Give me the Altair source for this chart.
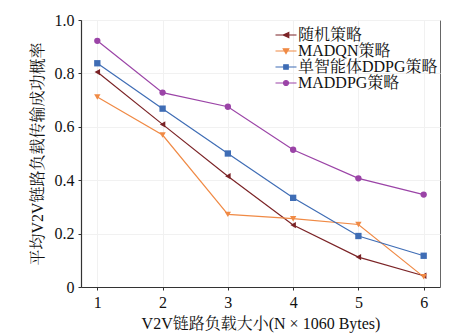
import altair as alt
import pandas as pd

x_vals = [1, 2, 3, 4, 5, 6]
series_names = ["随机策略", "MADQN策略", "单智能体DDPG策略", "MADDPG策略"]
random_vals = [0.805, 0.609, 0.415, 0.232, 0.112, 0.042]
madqn_vals = [0.712, 0.569, 0.272, 0.256, 0.234, 0.038]
ddpg_vals = [0.838, 0.668, 0.500, 0.334, 0.191, 0.117]
maddpg_vals = [0.922, 0.728, 0.675, 0.514, 0.407, 0.346]

colors = ["#7B2326", "#F08A45", "#3F6DB5", "#9B44A7"]
shapes = ["triangle-left", "triangle-down", "square", "circle"]

rows = []
for name, vals in zip(series_names, [random_vals, madqn_vals, ddpg_vals, maddpg_vals]):
    for xv, yv in zip(x_vals, vals):
        rows.append({"x": xv, "y": yv, "series": name})
df = pd.DataFrame(rows)

# legend symbols: line + marker (custom paths)
leg_paths = [
    "M-2.1,0H2.1M0.55,-0.5L-0.55,0L0.55,0.5Z",
    "M-2.1,0H2.1M-0.55,-0.45L0.55,-0.45L0,0.5Z",
    "M-2.1,0H2.1M-0.45,-0.45H0.45V0.45H-0.45Z",
    "M-2.1,0H2.1M-0.5,0A0.5,0.5 0 1,0 0.5,0A0.5,0.5 0 1,0 -0.5,0Z",
]
df_leg = pd.DataFrame({"x": [100] * 4, "y": [0.5] * 4, "series": series_names})

FONT = "Liberation Serif, Noto Serif CJK SC, Noto Sans CJK SC"

xs = alt.Scale(domain=[0.75, 6.25], nice=False, zero=False)
ys = alt.Scale(domain=[0, 1], nice=False)
cs = alt.Scale(domain=series_names, range=colors)

X = alt.X("x:Q", scale=xs,
          axis=alt.Axis(values=x_vals, format="d", title="V2V链路负载大小(N × 1060 Bytes)"))
Y = alt.Y("y:Q", scale=ys,
          axis=alt.Axis(values=[0, 0.2, 0.4, 0.6, 0.8, 1.0],
                        labelExpr="datum.value == 0 ? '0' : format(datum.value, '.1f')",
                        title="平均V2V链路负载传输成功概率"))

lines = alt.Chart(df).mark_line(strokeWidth=1.2).encode(
    x=X, y=Y,
    color=alt.Color("series:N", scale=cs, legend=None),
    detail="series:N",
)
points = alt.Chart(df).mark_point(filled=True, size=40, opacity=1).encode(
    x=X, y=Y,
    color=alt.Color("series:N", scale=cs, legend=None),
    shape=alt.Shape("series:N", scale=alt.Scale(domain=series_names, range=shapes), legend=None),
)

leg = alt.Legend(title=None, orient="none", legendX=189, legendY=7,
                 labelFont=FONT, labelFontSize=16, labelColor="#111",
                 symbolSize=100, symbolStrokeWidth=1.2, labelOffset=4,
                 rowPadding=-1, symbolOffset=8)

legend_layer = alt.Chart(df_leg).mark_point(filled=True, clip=True, opacity=1, strokeWidth=1.2).encode(
    x=X, y=Y,
    fill=alt.Fill("series:N", scale=cs, legend=leg),
    stroke=alt.Stroke("series:N", scale=cs, legend=leg),
    shape=alt.Shape("series:N", scale=alt.Scale(domain=series_names, range=leg_paths), legend=leg),
)

chart = alt.layer(lines, points, legend_layer).resolve_scale(
    color="independent", shape="independent", fill="independent", stroke="independent"
).properties(
    width=359, height=267,
    autosize=alt.AutoSizeParams(type="none"),
    padding={"left": 81, "top": 20, "right": 33, "bottom": 48},
    background="white",
).configure_view(
    stroke="#666", strokeWidth=1
).configure_axis(
    labelFont=FONT, titleFont=FONT, labelFontSize=16, titleFontSize=16,
    labelColor="#111", titleColor="#111", titleFontWeight="normal",
    domainColor="#333", domainWidth=1.2, tickColor="#333", tickSize=3,
    grid=True, gridColor="#f1f1f1", gridWidth=1,
).configure_axisX(
    labelPadding=4, titlePadding=5
).configure_axisY(
    labelPadding=4, titlePadding=9
)

chart.save("out.html", embed_options={"renderer": "svg", "actions": False})
